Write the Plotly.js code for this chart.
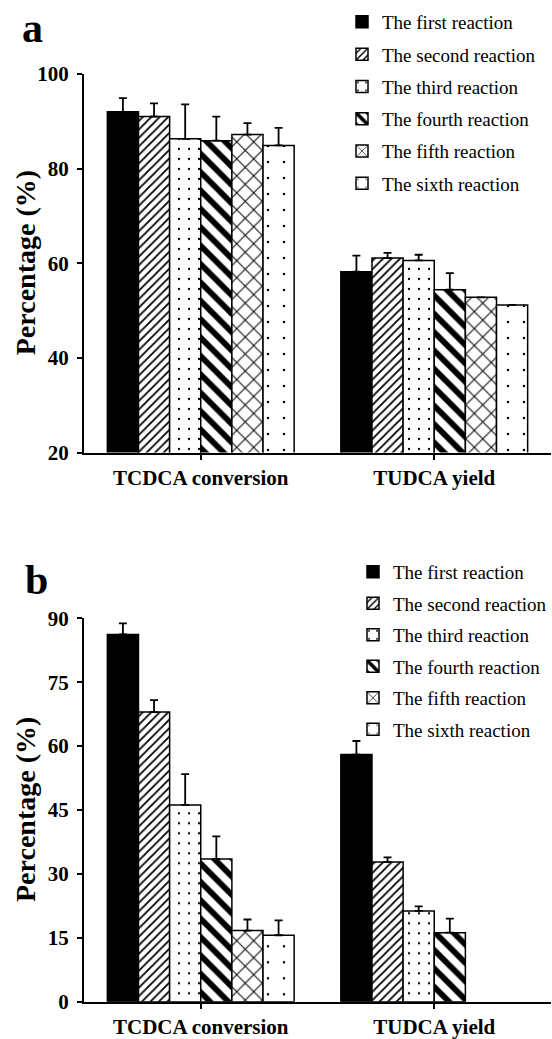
<!DOCTYPE html>
<html>
<head>
<meta charset="utf-8">
<script src="https://cdn.plot.ly/plotly-3.0.1.min.js"></script>
<style>html,body{margin:0;padding:0;background:#fff;}#chart{width:552px;height:1039px;}</style>
</head>
<body>
<div id="chart"></div>
<script>
// ---- data ----
const categories = ['TCDCA conversion', 'TUDCA yield'];
const seriesNames = ['The first reaction', 'The second reaction', 'The third reaction',
                     'The fourth reaction', 'The fifth reaction', 'The sixth reaction'];
const yTitle = 'Percentage (%)';
const panelLabels = ['a', 'b'];

// Panel a values (%)
const aFirst  = [92.0, 58.2];
const aSecond = [91.0, 61.1];
const aThird  = [86.3, 60.6];
const aFourth = [85.9, 54.4];
const aFifth  = [87.2, 52.8];
const aSixth  = [84.9, 51.2];
// Panel a error (+)
const aFirstErr  = [2.9, 3.4];
const aSecondErr = [2.8, 1.1];
const aThirdErr  = [7.3, 1.2];
const aFourthErr = [5.1, 3.5];
const aFifthErr  = [2.4, 0];
const aSixthErr  = [3.7, 0];

// Panel b values (%)
const bFirst  = [86.2, 58.0];
const bSecond = [68.0, 32.8];
const bThird  = [46.2, 21.3];
const bFourth = [33.5, 16.2];
const bFifth  = [16.7, null];
const bSixth  = [15.6, null];
// Panel b error (+)
const bFirstErr  = [2.6, 3.2];
const bSecondErr = [2.8, 1.1];
const bThirdErr  = [7.2, 1.1];
const bFourthErr = [5.3, 3.3];
const bFifthErr  = [2.6, 0];
const bSixthErr  = [3.5, 0];

const aTicks = [20, 40, 60, 80, 100];
const bTicks = [0, 15, 30, 45, 60, 75, 90];

// ---- styles ----
const patterns = [
  {shape: '', fgcolor: '#000', bgcolor: '#000'},
  {shape: '/', fgcolor: '#000', bgcolor: '#fff', size: 6, solidity: 0.3},
  {shape: '.', fgcolor: '#000', bgcolor: '#fff', size: 10, solidity: 0.04},
  {shape: '\\', fgcolor: '#000', bgcolor: '#fff', size: 13, solidity: 0.45},
  {shape: 'x', fgcolor: '#000', bgcolor: '#fff', size: 12, solidity: 0.16},
  {shape: '.', fgcolor: '#000', bgcolor: '#fff', size: 16, solidity: 0.02}
];

const aVals = [aFirst, aSecond, aThird, aFourth, aFifth, aSixth];
const aErrs = [aFirstErr, aSecondErr, aThirdErr, aFourthErr, aFifthErr, aSixthErr];
const bVals = [bFirst, bSecond, bThird, bFourth, bFifth, bSixth];
const bErrs = [bFirstErr, bSecondErr, bThirdErr, bFourthErr, bFifthErr, bSixthErr];

function mk(vals, errs, i, xa, ya, leg) {
  return {
    type: 'bar', x: categories, y: vals, name: seriesNames[i],
    xaxis: xa, yaxis: ya, legend: leg, legendgroup: leg + i,
    marker: {color: i === 0 ? '#000' : '#fff', line: {color: '#000', width: 1.5},
             pattern: patterns[i]},
    error_y: {type: 'data', symmetric: false, array: errs, arrayminus: errs.map(() => 0),
              color: '#000', thickness: 1.8, width: 4},
    hoverinfo: 'skip'
  };
}

const traces = [];
for (let i = 0; i < 6; i++) traces.push(mk(aVals[i], aErrs[i], i, 'x', 'y', 'legend'));
for (let i = 0; i < 6; i++) traces.push(mk(bVals[i], bErrs[i], i, 'x2', 'y2', 'legend2'));

const W = 552, H = 1039;
const SERIF = '"Liberation Serif", "Times New Roman", Times, serif';
const tickFont = {family: SERIF, size: 21, color: '#000', weight: 'bold'};
const catFont = {family: SERIF, size: 21, color: '#000', weight: 'bold'};
const titleFont = {family: SERIF, size: 28, color: '#000', weight: 'bold'};

function xAxis(anchor) {
  return {domain: [84 / W, 551 / W], anchor: anchor, type: 'category',
    showline: true, linecolor: '#000', linewidth: 2, ticks: 'outside', ticklen: 5,
    tickwidth: 2, tickcolor: '#000', tickfont: catFont, showgrid: false, zeroline: false,
    fixedrange: true};
}
function yAxis(anchor, dom, range, ticks) {
  return {domain: dom, anchor: anchor, range: range, tickvals: ticks,
    showline: true, linecolor: '#000', linewidth: 2, ticks: 'outside', ticklen: 5,
    tickwidth: 2, tickcolor: '#000', tickfont: tickFont, showgrid: false, zeroline: false,
    ticklabelstandoff: 4, fixedrange: true};
}

const legendBase = {
  font: {family: SERIF, size: 19, color: '#000'},
  bgcolor: 'rgba(0,0,0,0)', borderwidth: 0, traceorder: 'grouped',
  xanchor: 'left', yanchor: 'top', itemwidth: 30
};

function yTitleAnn(yref) {
  return {text: yTitle, xref: 'paper', yref: yref, x: 25 / W, y: 0.5, textangle: -90,
          xanchor: 'center', yanchor: 'middle', showarrow: false, font: titleFont};
}
function panelAnn(txt, xpx, ypx) {
  return {text: txt, xref: 'paper', yref: 'paper', x: xpx / W, y: 1 - ypx / H,
          xanchor: 'left', yanchor: 'top', showarrow: false,
          font: {family: SERIF, size: 42, color: '#000', weight: 'bold'}};
}

const layout = {
  width: W, height: H,
  font: {family: SERIF, color: '#000'},
  margin: {l: 0, r: 0, t: 0, b: 0},
  paper_bgcolor: '#fff', plot_bgcolor: '#fff',
  barmode: 'group', bargap: 0.2, bargroupgap: 0,
  xaxis: xAxis('y'),
  yaxis: yAxis('x', [1 - 452.5 / H, 1 - 74 / H], [20, 100], aTicks),
  xaxis2: xAxis('y2'),
  yaxis2: yAxis('x2', [1 - 1001.7 / H, 1 - 618.3 / H], [0, 90], bTicks),
  legend: Object.assign({}, legendBase, {x: 342 / W, y: 1 - 3 / H, tracegroupgap: 4.6}),
  legend2: Object.assign({}, legendBase, {x: 353 / W, y: 1 - 553 / H, tracegroupgap: 3.8}),
  showlegend: true,
  annotations: [
    panelAnn(panelLabels[0], 20, 3),
    panelAnn(panelLabels[1], 23, 555),
    yTitleAnn('y domain'),
    yTitleAnn('y2 domain')
  ]
};

Plotly.newPlot('chart', traces, layout, {staticPlot: true, displayModeBar: false});
</script>
</body>
</html>
